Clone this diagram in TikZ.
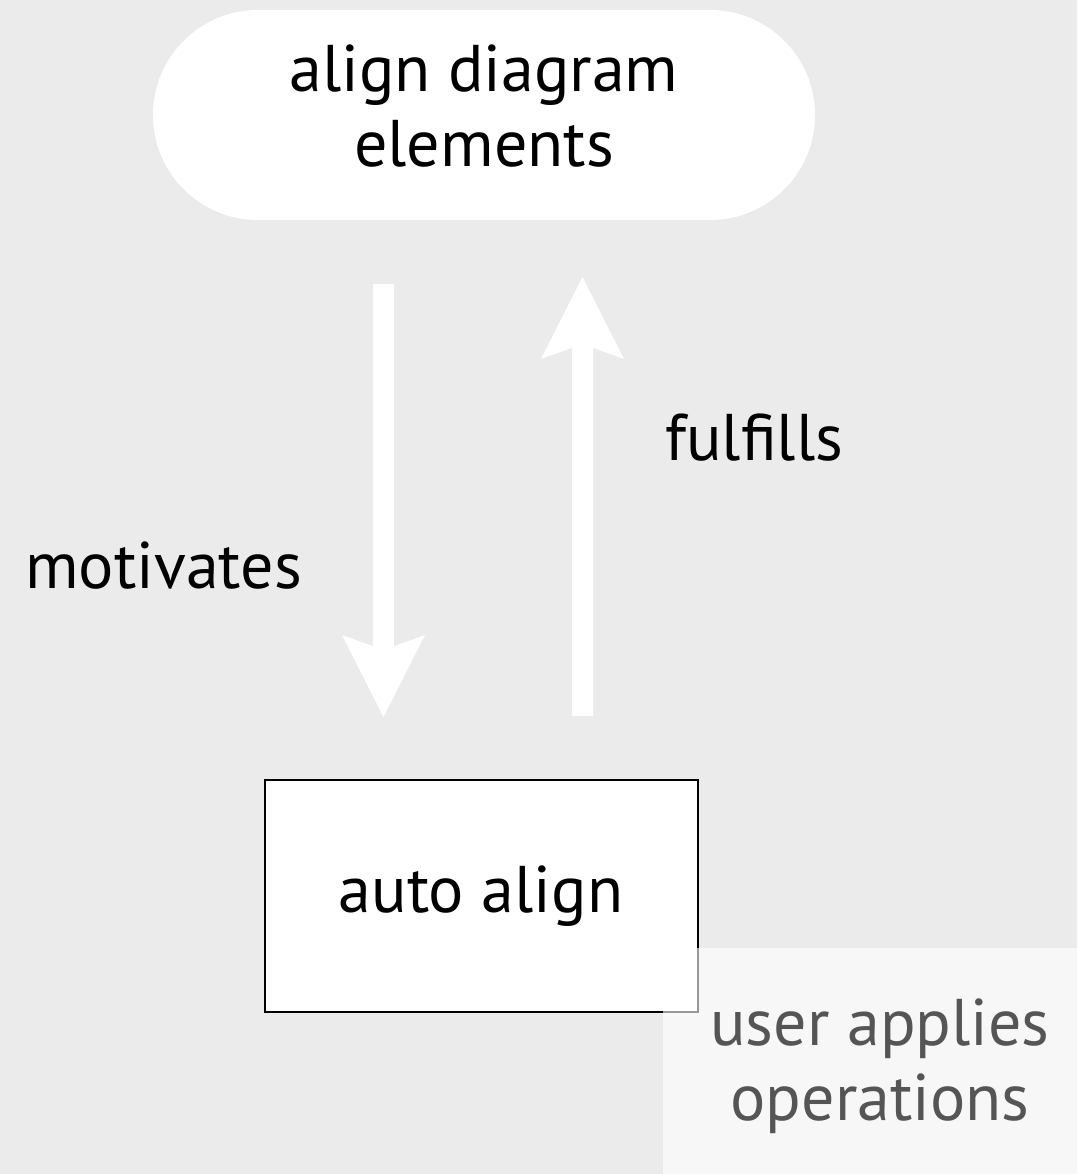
\documentclass[tikz,border=0pt]{standalone}
\usepackage{fontspec}
\setmainfont{PT Sans}
\usetikzlibrary{arrows.meta}
\definecolor{bggray}{HTML}{EBEBEB}
\definecolor{labgray}{HTML}{555555}
\tikzset{
  bigtext/.style={font=\fontsize{66}{75}\selectfont, text=black, inner sep=0pt},
  whitearrow/.style={draw=white, line width=21pt,
    -{Stealth[length=82pt,width=83pt,inset=15pt,line width=0pt]}},
}
\begin{document}
\begin{tikzpicture}[x=1pt,y=-1pt]
  \fill[bggray] (0,0) rectangle (1077,1174);
  \useasboundingbox (0,0) rectangle (1077,1174);

  \node[fill=white, rounded corners=105pt, minimum width=662pt, minimum height=210pt] (goal) at (484,115) {};
  \node[bigtext, align=center] (goallab) at (484,106) {align diagram\\elements};

  \node[draw=black, line width=2pt, fill=white, minimum width=433pt, minimum height=232pt] (auto) at (481.5,896) {};
  \node[bigtext, anchor=base] (autolab) at (481,912) {auto align};

  \coordinate (dtop) at (383.5,284);
  \coordinate (dbot) at (383.5,717);
  \coordinate (ubot) at (582.5,716);
  \coordinate (utop) at (582.5,277);
  \draw[whitearrow] (dtop) -- (dbot);
  \draw[whitearrow] (ubot) -- (utop);

  \node[bigtext, anchor=base west] (fulfills) at (665,460) {fulfills};
  \node[bigtext, anchor=base west] (motivates) at (25,588) {motivates};

  \fill[white, fill opacity=0.6] (663,948) rectangle (1077,1174);
  \node[bigtext, text=labgray, align=center] (user) at (880,1066) {user applies\\operations};
\end{tikzpicture}
\end{document}
